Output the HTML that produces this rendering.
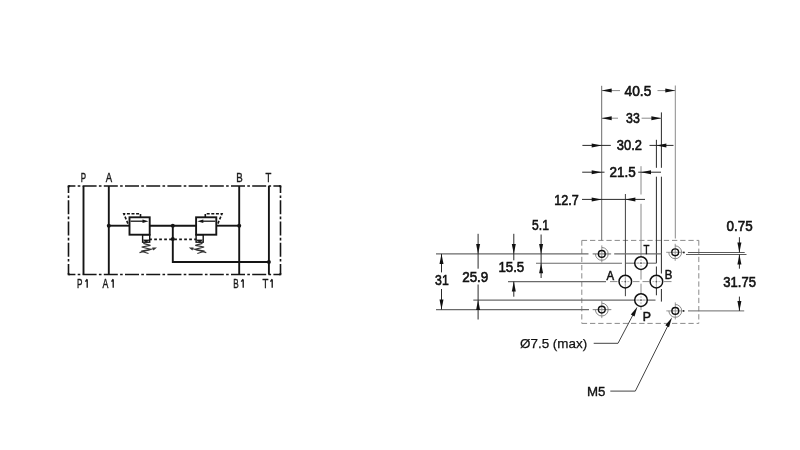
<!DOCTYPE html>
<html><head><meta charset="utf-8"><style>
html,body{margin:0;padding:0;background:#fff;width:800px;height:450px;overflow:hidden}
svg{display:block;filter:grayscale(100%)}
text{font-family:"Liberation Sans",sans-serif}
</style></head><body>
<svg width="800" height="450" viewBox="0 0 800 450">
<rect width="800" height="450" fill="#fff"/>
<path d="M68.5,186 L280.5,186 M68.5,274.5 L280.5,274.5" fill="none" stroke="#151515" stroke-width="1.6" stroke-dasharray="14 2.3 2.6 2.3" stroke-dashoffset="7.1"/>
<path d="M68.5,186 L68.5,274.5 M280.5,186 L280.5,274.5" fill="none" stroke="#151515" stroke-width="1.6" stroke-dasharray="14 2.3 2.6 2.3" stroke-dashoffset="6.9"/>
<path d="M68.5,186.8 L68.5,186 L69.3,186 M279.7,186 L280.5,186 L280.5,186.8 M68.5,273.7 L68.5,274.5 L69.3,274.5 M279.7,274.5 L280.5,274.5 L280.5,273.7" fill="none" stroke="#151515" stroke-width="1.6" stroke-linecap="square"/>
<line x1="83.5" y1="186" x2="83.5" y2="274.5" stroke="#151515" stroke-width="1.9" />
<line x1="108.8" y1="186" x2="108.8" y2="274.5" stroke="#151515" stroke-width="1.9" />
<line x1="239.2" y1="186" x2="239.2" y2="274.5" stroke="#151515" stroke-width="1.9" />
<line x1="268.9" y1="186" x2="268.9" y2="274.5" stroke="#151515" stroke-width="1.9" />
<line x1="108.8" y1="225.7" x2="129.5" y2="225.7" stroke="#151515" stroke-width="1.9" />
<line x1="149.7" y1="225.7" x2="196.3" y2="225.7" stroke="#151515" stroke-width="1.9" />
<line x1="216.3" y1="225.7" x2="239.2" y2="225.7" stroke="#151515" stroke-width="1.9" />
<path d="M172.8,225.7 L172.8,262 L268.9,262" fill="none" stroke="#151515" stroke-width="1.9"/>
<circle cx="108.8" cy="225.7" r="2" fill="#151515"/>
<circle cx="239.2" cy="225.7" r="2" fill="#151515"/>
<circle cx="172.8" cy="225.7" r="2" fill="#151515"/>
<circle cx="172.8" cy="239.1" r="2" fill="#151515"/>
<circle cx="268.9" cy="262" r="2" fill="#151515"/>
<g>
<rect x="129.5" y="217.3" width="20.2" height="17.4" fill="none" stroke="#151515" stroke-width="1.9"/>
<line x1="130.5" y1="221.2" x2="144" y2="221.2" stroke="#151515" stroke-width="1.3" />
<path d="M148.5,221.2 L142.5,219.4 L142.5,223 Z" fill="#151515"/>
<path d="M140.5,217 L140.5,213.8 L123.8,213.8 L128.6,225.3" fill="none" stroke="#151515" stroke-width="1.6" stroke-dasharray="3 1.6"/>
<rect x="142.6" y="234.7" width="7.1" height="7.5" fill="none" stroke="#151515" stroke-width="1.4"/>
<path d="M143.4,240 L149,240 L146.2,242 Z" fill="#151515" stroke="#151515" stroke-width="0.8"/>
<path d="M143.3,243.4 L150.5,245.3 L141.7,247 L150.8,249.4 L141.3,251.2 L148.5,253.5" fill="none" stroke="#333" stroke-width="1.2"/>
<line x1="139.5" y1="252.6" x2="153" y2="248.7" stroke="#333" stroke-width="1.1" />
<path d="M157,247.6 L152.2,247.4 L153.4,250.6 Z" fill="#333"/>
</g>
<g transform="translate(345.8,0) scale(-1,1)">
<g>
<rect x="129.5" y="217.3" width="20.2" height="17.4" fill="none" stroke="#151515" stroke-width="1.9"/>
<line x1="130.5" y1="221.2" x2="144" y2="221.2" stroke="#151515" stroke-width="1.3" />
<path d="M148.5,221.2 L142.5,219.4 L142.5,223 Z" fill="#151515"/>
<path d="M140.5,217 L140.5,213.8 L123.8,213.8 L128.6,225.3" fill="none" stroke="#151515" stroke-width="1.6" stroke-dasharray="3 1.6"/>
<rect x="142.6" y="234.7" width="7.1" height="7.5" fill="none" stroke="#151515" stroke-width="1.4"/>
<path d="M143.4,240 L149,240 L146.2,242 Z" fill="#151515" stroke="#151515" stroke-width="0.8"/>
<path d="M143.3,243.4 L150.5,245.3 L141.7,247 L150.8,249.4 L141.3,251.2 L148.5,253.5" fill="none" stroke="#333" stroke-width="1.2"/>
<line x1="139.5" y1="252.6" x2="153" y2="248.7" stroke="#333" stroke-width="1.1" />
<path d="M157,247.6 L152.2,247.4 L153.4,250.6 Z" fill="#333"/>
</g>
</g>
<line x1="149.7" y1="239.3" x2="196.5" y2="239.3" stroke="#151515" stroke-width="1.8" stroke-dasharray="2.7 2.3" stroke-dashoffset="0.5"/>
<text x="80.86" y="182.00" font-size="12.60" fill="#1a1a1a" stroke="#1a1a1a" stroke-width="0.4" textLength="5.30" lengthAdjust="spacingAndGlyphs">P</text>
<text x="105.64" y="182.00" font-size="12.60" fill="#1a1a1a" stroke="#1a1a1a" stroke-width="0.4" textLength="6.37" lengthAdjust="spacingAndGlyphs">A</text>
<text x="236.35" y="182.00" font-size="12.60" fill="#1a1a1a" stroke="#1a1a1a" stroke-width="0.4" textLength="6.47" lengthAdjust="spacingAndGlyphs">B</text>
<text x="265.62" y="182.00" font-size="12.60" fill="#1a1a1a" stroke="#1a1a1a" stroke-width="0.4" textLength="5.82" lengthAdjust="spacingAndGlyphs">T</text>
<text x="76.92" y="287.80" font-size="12.60" fill="#1a1a1a" stroke="#1a1a1a" stroke-width="0.4" textLength="5.44" lengthAdjust="spacingAndGlyphs">P</text>
<text x="102.60" y="287.80" font-size="12.60" fill="#1a1a1a" stroke="#1a1a1a" stroke-width="0.4" textLength="5.85" lengthAdjust="spacingAndGlyphs">A</text>
<text x="233.24" y="287.80" font-size="12.60" fill="#1a1a1a" stroke="#1a1a1a" stroke-width="0.4" textLength="5.47" lengthAdjust="spacingAndGlyphs">B</text>
<text x="262.40" y="287.80" font-size="12.60" fill="#1a1a1a" stroke="#1a1a1a" stroke-width="0.4" textLength="5.86" lengthAdjust="spacingAndGlyphs">T</text>
<path d="M87.2,287.8 L87.2,279.4 M85.4,281.6 L87.2,279.2" fill="none" stroke="#1a1a1a" stroke-width="1.35" stroke-linecap="butt"/>
<path d="M113.2,287.8 L113.2,279.4 M111.5,281.6 L113.2,279.2" fill="none" stroke="#1a1a1a" stroke-width="1.35" stroke-linecap="butt"/>
<path d="M243.20000000000002,287.8 L243.20000000000002,279.4 M241.20000000000002,281.6 L243.20000000000002,279.2" fill="none" stroke="#1a1a1a" stroke-width="1.35" stroke-linecap="butt"/>
<path d="M272.2,287.8 L272.2,279.4 M270.4,281.6 L272.2,279.2" fill="none" stroke="#1a1a1a" stroke-width="1.35" stroke-linecap="butt"/>
<path d="M581.8,240.4 L698.8,240.4 M581.8,240.4 L581.8,323.4 M698.8,240.4 L698.8,323.4 M581.8,323.4 L698.8,323.4" fill="none" stroke="#8a8a8a" stroke-width="1" stroke-dasharray="5.3 2.9"/>
<line x1="601.7" y1="85.8" x2="601.7" y2="240.4" stroke="#6a6a6a" stroke-width="1" />
<line x1="675.3" y1="85.5" x2="675.3" y2="238.5" stroke="#8a8a8a" stroke-width="1" />
<line x1="661.4" y1="112.4" x2="661.4" y2="167.8" stroke="#2a2a2a" stroke-width="1" />
<line x1="661.4" y1="176.7" x2="661.4" y2="273.5" stroke="#2a2a2a" stroke-width="1" />
<line x1="661.4" y1="289" x2="661.4" y2="301.6" stroke="#2a2a2a" stroke-width="1" />
<line x1="656.4" y1="139.8" x2="656.4" y2="167.8" stroke="#2a2a2a" stroke-width="1" />
<line x1="656.4" y1="176.7" x2="656.4" y2="263.2" stroke="#2a2a2a" stroke-width="1" />
<line x1="656.4" y1="266.5" x2="656.4" y2="295.3" stroke="#2a2a2a" stroke-width="1" />
<line x1="641.0" y1="166.2" x2="641.0" y2="194.5" stroke="#8a8a8a" stroke-width="1" />
<line x1="641.0" y1="203.8" x2="641.0" y2="256" stroke="#8a8a8a" stroke-width="1" />
<line x1="625.4" y1="194" x2="625.4" y2="296.2" stroke="#2a2a2a" stroke-width="0.9" />
<line x1="601.7" y1="90.6" x2="620" y2="90.6" stroke="#8a8a8a" stroke-width="1" />
<line x1="657.5" y1="90.6" x2="675.3" y2="90.6" stroke="#8a8a8a" stroke-width="1" />
<path d="M601.70,90.60 L611.70,88.60 L611.70,92.60 Z" fill="#111"/>
<path d="M675.30,90.60 L665.30,92.60 L665.30,88.60 Z" fill="#111"/>
<text x="624.60" y="95.77" font-size="14.30" fill="#111" stroke="#111" stroke-width="0.6" textLength="26.70" lengthAdjust="spacingAndGlyphs">40.5</text>
<line x1="601.7" y1="118.2" x2="618" y2="118.2" stroke="#8a8a8a" stroke-width="1" />
<line x1="641.6" y1="118.2" x2="661.4" y2="118.2" stroke="#8a8a8a" stroke-width="1" />
<path d="M601.70,118.20 L611.70,116.20 L611.70,120.20 Z" fill="#111"/>
<path d="M661.40,118.20 L651.40,120.20 L651.40,116.20 Z" fill="#111"/>
<text x="626.10" y="122.65" font-size="14.30" fill="#111" stroke="#111" stroke-width="0.6" textLength="13.69" lengthAdjust="spacingAndGlyphs">33</text>
<line x1="582.4" y1="145.4" x2="610.8" y2="145.4" stroke="#2a2a2a" stroke-width="1" />
<line x1="649.5" y1="145.4" x2="673.5" y2="145.4" stroke="#2a2a2a" stroke-width="1" />
<path d="M601.70,145.40 L591.70,147.40 L591.70,143.40 Z" fill="#111"/>
<path d="M656.40,145.40 L666.40,143.40 L666.40,147.40 Z" fill="#111"/>
<text x="616.86" y="149.60" font-size="14.30" fill="#111" stroke="#111" stroke-width="0.6" textLength="25.07" lengthAdjust="spacingAndGlyphs">30.2</text>
<line x1="582.2" y1="172.2" x2="604.5" y2="172.2" stroke="#2a2a2a" stroke-width="1" />
<line x1="638.2" y1="172.2" x2="661" y2="172.2" stroke="#2a2a2a" stroke-width="1" />
<path d="M601.70,172.20 L591.70,174.20 L591.70,170.20 Z" fill="#111"/>
<path d="M641.00,172.20 L651.00,170.20 L651.00,174.20 Z" fill="#111"/>
<text x="609.50" y="176.60" font-size="14.30" fill="#111" stroke="#111" stroke-width="0.6" textLength="26.26" lengthAdjust="spacingAndGlyphs">21.5</text>
<line x1="582" y1="199.4" x2="645" y2="199.4" stroke="#2a2a2a" stroke-width="1" />
<path d="M601.70,199.40 L591.70,201.40 L591.70,197.40 Z" fill="#111"/>
<path d="M625.40,199.40 L635.40,197.40 L635.40,201.40 Z" fill="#111"/>
<text x="554.19" y="204.60" font-size="14.30" fill="#111" stroke="#111" stroke-width="0.6" textLength="24.52" lengthAdjust="spacingAndGlyphs">12.7</text>
<line x1="436" y1="253.9" x2="588.5" y2="253.9" stroke="#6a6a6a" stroke-width="1.1" />
<line x1="592.6" y1="253.9" x2="611.2" y2="253.9" stroke="#8a8a8a" stroke-width="0.9" />
<line x1="614.2" y1="253.9" x2="661.5" y2="253.9" stroke="#6a6a6a" stroke-width="1.1" />
<line x1="536" y1="263.2" x2="622" y2="263.2" stroke="#6a6a6a" stroke-width="1.1" />
<line x1="626" y1="263.2" x2="656.4" y2="263.2" stroke="#6a6a6a" stroke-width="1.1" />
<line x1="508" y1="281.6" x2="606" y2="281.6" stroke="#6a6a6a" stroke-width="1.1" />
<line x1="610" y1="281.6" x2="617.5" y2="281.6" stroke="#8a8a8a" stroke-width="1" />
<line x1="633" y1="281.6" x2="639.5" y2="281.6" stroke="#8a8a8a" stroke-width="1" />
<line x1="642.5" y1="281.6" x2="649" y2="281.6" stroke="#8a8a8a" stroke-width="1" />
<line x1="664" y1="281.6" x2="671.5" y2="281.6" stroke="#8a8a8a" stroke-width="1" />
<line x1="641" y1="269.5" x2="641" y2="279.6" stroke="#8a8a8a" stroke-width="1" />
<line x1="641" y1="283.7" x2="641" y2="294" stroke="#8a8a8a" stroke-width="1" />
<line x1="641" y1="306.4" x2="641" y2="310" stroke="#8a8a8a" stroke-width="1" />
<line x1="473.3" y1="300.1" x2="655.5" y2="300.1" stroke="#6a6a6a" stroke-width="1.1" />
<line x1="436" y1="309.6" x2="589" y2="309.6" stroke="#6a6a6a" stroke-width="1.1" />
<line x1="592.8" y1="309.6" x2="611.4" y2="309.6" stroke="#8a8a8a" stroke-width="0.9" />
<line x1="687.9" y1="252.5" x2="744.7" y2="252.5" stroke="#5a5a5a" stroke-width="1" />
<line x1="686" y1="254.5" x2="746.5" y2="254.5" stroke="#5a5a5a" stroke-width="1" />
<line x1="688" y1="310.9" x2="744.2" y2="310.9" stroke="#6a6a6a" stroke-width="1" />
<line x1="441.5" y1="253.9" x2="441.5" y2="272.4" stroke="#2a2a2a" stroke-width="1" />
<line x1="441.5" y1="289" x2="441.5" y2="309.6" stroke="#2a2a2a" stroke-width="1" />
<path d="M441.50,253.90 L443.50,263.90 L439.50,263.90 Z" fill="#111"/>
<path d="M441.50,309.60 L439.50,299.60 L443.50,299.60 Z" fill="#111"/>
<text x="435.09" y="285.49" font-size="14.30" fill="#111" stroke="#111" stroke-width="0.6" textLength="13.62" lengthAdjust="spacingAndGlyphs">31</text>
<line x1="478.1" y1="233.8" x2="478.1" y2="268.7" stroke="#2a2a2a" stroke-width="1" />
<path d="M478.10,253.90 L476.10,243.90 L480.10,243.90 Z" fill="#111"/>
<line x1="478.1" y1="284.5" x2="478.1" y2="319.5" stroke="#2a2a2a" stroke-width="1" />
<path d="M478.10,300.10 L480.10,310.10 L476.10,310.10 Z" fill="#111"/>
<text x="462.20" y="281.60" font-size="14.30" fill="#111" stroke="#111" stroke-width="0.6" textLength="26.11" lengthAdjust="spacingAndGlyphs">25.9</text>
<line x1="513.8" y1="233.8" x2="513.8" y2="260.3" stroke="#2a2a2a" stroke-width="1" />
<path d="M513.80,253.90 L511.80,243.90 L515.80,243.90 Z" fill="#111"/>
<line x1="513.8" y1="281.6" x2="513.8" y2="296.7" stroke="#2a2a2a" stroke-width="1" />
<path d="M513.80,281.60 L515.80,291.60 L511.80,291.60 Z" fill="#111"/>
<text x="498.39" y="272.15" font-size="14.30" fill="#111" stroke="#111" stroke-width="0.6" textLength="25.88" lengthAdjust="spacingAndGlyphs">15.5</text>
<line x1="541.1" y1="234.5" x2="541.1" y2="278" stroke="#2a2a2a" stroke-width="1" />
<path d="M541.10,253.90 L539.10,243.90 L543.10,243.90 Z" fill="#111"/>
<path d="M541.10,263.20 L543.10,273.20 L539.10,273.20 Z" fill="#111"/>
<text x="532.09" y="229.83" font-size="14.30" fill="#111" stroke="#111" stroke-width="0.6" textLength="16.81" lengthAdjust="spacingAndGlyphs">5.1</text>
<line x1="739.4" y1="237.2" x2="739.4" y2="252.5" stroke="#2a2a2a" stroke-width="1" />
<path d="M739.40,252.50 L737.40,242.50 L741.40,242.50 Z" fill="#111"/>
<line x1="739.4" y1="254.5" x2="739.4" y2="268.7" stroke="#2a2a2a" stroke-width="1" />
<path d="M739.40,254.50 L741.40,264.50 L737.40,264.50 Z" fill="#111"/>
<line x1="739.4" y1="296.6" x2="739.4" y2="310.9" stroke="#2a2a2a" stroke-width="1" />
<path d="M739.40,310.90 L737.40,300.90 L741.40,300.90 Z" fill="#111"/>
<text x="726.55" y="230.62" font-size="14.30" fill="#111" stroke="#111" stroke-width="0.6" textLength="26.11" lengthAdjust="spacingAndGlyphs">0.75</text>
<text x="723.35" y="287.39" font-size="14.30" fill="#111" stroke="#111" stroke-width="0.6" textLength="32.61" lengthAdjust="spacingAndGlyphs">31.75</text>
<line x1="601.8" y1="245.4" x2="601.8" y2="262.4" stroke="#8a8a8a" stroke-width="0.9" />
<line x1="592.8" y1="253.9" x2="610.8" y2="253.9" stroke="#8a8a8a" stroke-width="0.9" />
<circle cx="601.8" cy="253.9" r="3.4" fill="none" stroke="#111" stroke-width="1.4"/>
<path d="M601.8,247.5 A6.4,6.4 0 1 1 595.4,253.9" fill="none" stroke="#7a7a7a" stroke-width="0.9"/>
<line x1="675.2" y1="243.8" x2="675.2" y2="260.8" stroke="#8a8a8a" stroke-width="0.9" />
<line x1="666.2" y1="252.3" x2="684.2" y2="252.3" stroke="#8a8a8a" stroke-width="0.9" />
<circle cx="675.2" cy="252.3" r="3.4" fill="none" stroke="#111" stroke-width="1.4"/>
<path d="M675.2,245.9 A6.4,6.4 0 1 1 668.8000000000001,252.3" fill="none" stroke="#7a7a7a" stroke-width="0.9"/>
<line x1="601.8" y1="301.1" x2="601.8" y2="318.1" stroke="#8a8a8a" stroke-width="0.9" />
<line x1="592.8" y1="309.6" x2="610.8" y2="309.6" stroke="#8a8a8a" stroke-width="0.9" />
<circle cx="601.8" cy="309.6" r="3.4" fill="none" stroke="#111" stroke-width="1.4"/>
<path d="M601.8,303.20000000000005 A6.4,6.4 0 1 1 595.4,309.6" fill="none" stroke="#7a7a7a" stroke-width="0.9"/>
<line x1="675.3" y1="302.4" x2="675.3" y2="319.4" stroke="#8a8a8a" stroke-width="0.9" />
<line x1="666.3" y1="310.9" x2="684.3" y2="310.9" stroke="#8a8a8a" stroke-width="0.9" />
<circle cx="675.3" cy="310.9" r="3.4" fill="none" stroke="#111" stroke-width="1.4"/>
<path d="M675.3,304.5 A6.4,6.4 0 1 1 668.9,310.9" fill="none" stroke="#7a7a7a" stroke-width="0.9"/>
<circle cx="683.9" cy="252.5" r="0.9" fill="#222"/>
<circle cx="683.6" cy="310.9" r="0.9" fill="#222"/>
<circle cx="641.0" cy="263.1" r="6.3" fill="#fff" fill-opacity="0.6" stroke="#111" stroke-width="1.5"/>
<path d="M637.0,263.1 L639.0,263.1 M643.0,263.1 L645.0,263.1 M641.0,259.1 L641.0,261.1 M641.0,265.1 L641.0,267.1" stroke="#b0b0b0" stroke-width="0.9"/>
<circle cx="641.0" cy="263.1" r="0.9" fill="#555"/>
<circle cx="625.3" cy="281.6" r="6.3" fill="#fff" fill-opacity="0.6" stroke="#111" stroke-width="1.5"/>
<path d="M621.3,281.6 L623.3,281.6 M627.3,281.6 L629.3,281.6 M625.3,277.6 L625.3,279.6 M625.3,283.6 L625.3,285.6" stroke="#b0b0b0" stroke-width="0.9"/>
<circle cx="625.3" cy="281.6" r="0.9" fill="#555"/>
<circle cx="656.4" cy="281.6" r="6.3" fill="#fff" fill-opacity="0.6" stroke="#111" stroke-width="1.5"/>
<path d="M652.4,281.6 L654.4,281.6 M658.4,281.6 L660.4,281.6 M656.4,277.6 L656.4,279.6 M656.4,283.6 L656.4,285.6" stroke="#b0b0b0" stroke-width="0.9"/>
<circle cx="656.4" cy="281.6" r="0.9" fill="#555"/>
<circle cx="641.0" cy="300.1" r="6.3" fill="#fff" fill-opacity="0.6" stroke="#111" stroke-width="1.5"/>
<path d="M637.0,300.1 L639.0,300.1 M643.0,300.1 L645.0,300.1 M641.0,296.1 L641.0,298.1 M641.0,302.1 L641.0,304.1" stroke="#b0b0b0" stroke-width="0.9"/>
<circle cx="641.0" cy="300.1" r="0.9" fill="#555"/>
<text x="643.51" y="253.91" font-size="13.30" fill="#111" stroke="#111" stroke-width="0.55" textLength="5.87" lengthAdjust="spacingAndGlyphs">T</text>
<text x="606.54" y="280.06" font-size="13.30" fill="#111" stroke="#111" stroke-width="0.55" textLength="7.61" lengthAdjust="spacingAndGlyphs">A</text>
<text x="664.77" y="278.92" font-size="13.30" fill="#111" stroke="#111" stroke-width="0.55" textLength="7.58" lengthAdjust="spacingAndGlyphs">B</text>
<text x="642.74" y="321.30" font-size="13.30" fill="#111" stroke="#111" stroke-width="0.55" textLength="8.17" lengthAdjust="spacingAndGlyphs">P</text>
<path d="M593.7,343.3 L618,343.3 L633.6,313.7" fill="none" stroke="#444" stroke-width="1"/>
<path d="M637.40,306.70 L634.51,316.50 L630.81,314.51 Z" fill="#111"/>
<text x="520.02" y="348.19" font-size="13.40" fill="#111" stroke="#111" stroke-width="0.25" textLength="67.17" lengthAdjust="spacingAndGlyphs">Ø7.5 (max)</text>
<path d="M610.3,391.1 L635.3,391.1 L668.5,324.5" fill="none" stroke="#444" stroke-width="1"/>
<path d="M672.00,317.60 L669.02,327.37 L665.34,325.35 Z" fill="#111"/>
<text x="587.05" y="395.52" font-size="13.60" fill="#111" stroke="#111" stroke-width="0.35" textLength="18.44" lengthAdjust="spacingAndGlyphs">M5</text>
</svg>
</body></html>
